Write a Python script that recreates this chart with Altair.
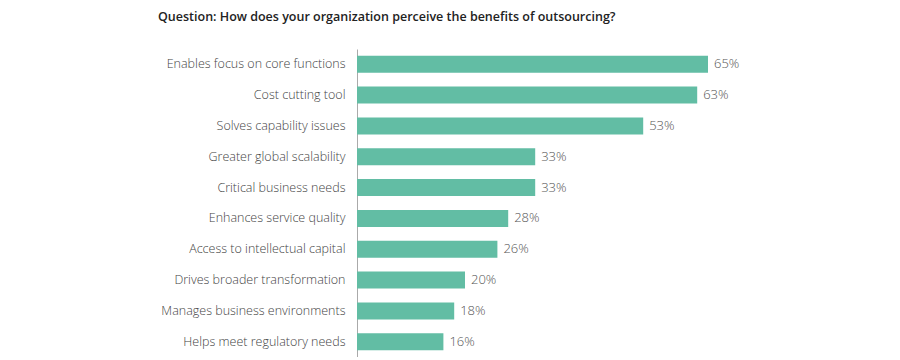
import altair as alt
import pandas as pd

categories = [
    "Enables focus on core functions",
    "Cost cutting tool",
    "Solves capability issues",
    "Greater global scalability",
    "Critical business needs",
    "Enhances service quality",
    "Access to intellectual capital",
    "Drives broader transformation",
    "Manages business environments",
    "Helps meet regulatory needs",
]
values = [65, 63, 53, 33, 33, 28, 26, 20, 18, 16]
value_labels = [f"{v}%" for v in values]

df = pd.DataFrame({"category": categories, "value": values, "label": value_labels})

FONT = "Open Sans"

y = alt.Y(
    "category:N",
    sort=categories,
    title=None,
    scale=alt.Scale(paddingInner=0.45, paddingOuter=0.22),
    axis=alt.Axis(
        domain=True,
        domainColor="#aaaaaa",
        domainWidth=1,
        ticks=False,
        labelPadding=12,
        labelFont=FONT,
        labelFontSize=12.5,
        labelFontWeight=300,
        labelColor="#444444",
        labelLimit=300,
    ),
)
x = alt.X("value:Q", scale=alt.Scale(domain=[0, 80]), axis=None)

bars = alt.Chart(df).mark_bar(color="#62BDA4").encode(x=x, y=y)
texts = alt.Chart(df).mark_text(
    align="left", baseline="middle", dx=6, font=FONT, fontSize=13,
    fontWeight=300, color="#555555"
).encode(x=x, y=alt.Y("category:N", sort=categories), text="label:N")

chart = (
    alt.layer(bars, texts)
    .properties(
        width=432,
        height=308,
        padding={"left": 349, "top": 41, "right": 0, "bottom": 0},
        autosize=alt.AutoSizeParams(type="none"),
        title=alt.TitleParams(
            "Question: How does your organization perceive the benefits of outsourcing?",
            anchor="start",
            frame="group",
            dx=-199,
            offset=26,
            font=FONT,
            fontSize=12.5,
            fontWeight=600,
            color="#222222",
        ),
    )
    .configure_view(stroke=None)
)

chart.save("out.html", embed_options={"renderer": "svg", "actions": False})
